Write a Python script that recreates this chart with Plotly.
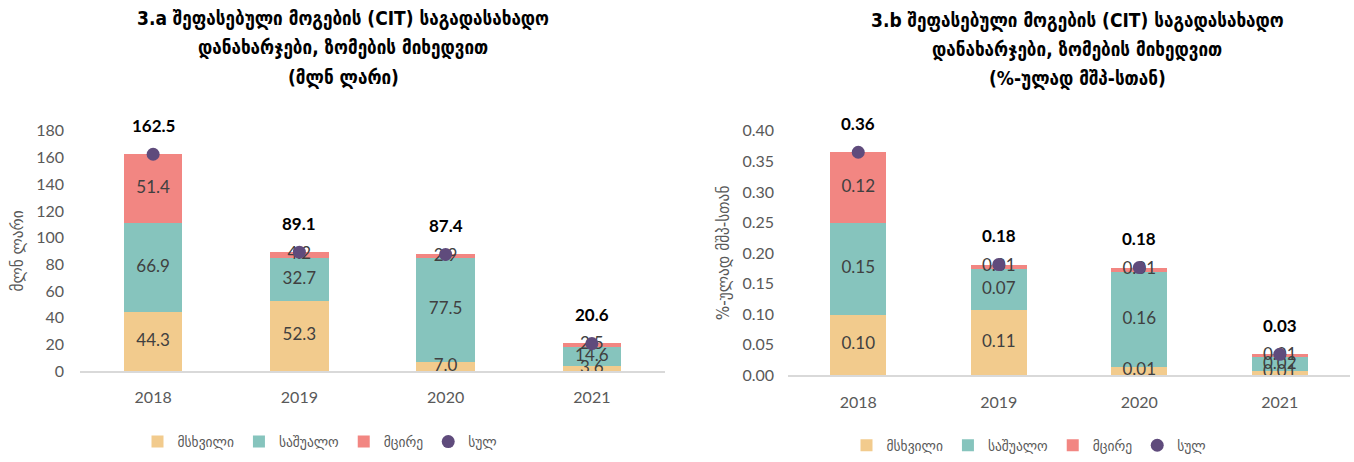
import plotly.graph_objects as go

years = ["2018", "2019", "2020", "2021"]

# 3.a  million GEL
large_a = [44.3, 52.3, 7.0, 3.6]
medium_a = [66.9, 32.7, 77.5, 14.6]
small_a = [51.4, 4.2, 2.9, 2.5]
total_a = [162.5, 89.1, 87.4, 20.6]

# 3.b  % of GDP
large_b = [0.098, 0.106, 0.013, 0.006]
medium_b = [0.151, 0.067, 0.156, 0.023]
small_b = [0.116, 0.008, 0.007, 0.005]
total_b = [0.365, 0.181, 0.176, 0.034]

series_names = ["მსხვილი", "საშუალო", "მცირე", "სულ"]
title_a = ["3.a შეფასებული მოგების (CIT) საგადასახადო", "დანახარჯები, ზომების მიხედვით", "(მლნ ლარი)"]
title_b = ["3.b შეფასებული მოგების (CIT) საგადასახადო", "დანახარჯები, ზომების მიხედვით", "(%-ულად მშპ-სთან)"]
ytitle_a = "მლნ ლარი"
ytitle_b = "%-ულად მშპ-სთან"

W, H = 1354, 462
C_LARGE = "#F2CB8D"
C_MED = "#86C4BD"
C_SMALL = "#F28682"
C_TOT = "#5F4B7C"
TXT = "#404040"
TICK = "#595959"
FONT = "Lato, 'DejaVu Sans', sans-serif"
GEO = "'DejaVu Sans Condensed', 'DejaVu Sans', sans-serif"

fig = go.Figure()

def add_chart(xa, ya, leg, large, medium, small, total, fmt):
    parts = [(series_names[0], large, C_LARGE), (series_names[1], medium, C_MED), (series_names[2], small, C_SMALL)]
    for name, vals, col in parts:
        fig.add_trace(go.Bar(
            x=years, y=vals, name=name, marker=dict(color=col, line=dict(width=0)),
            width=0.4, xaxis=xa, yaxis=ya, legend=leg, hoverinfo="skip"))
    # segment labels, drawn above all bars
    base = [0.0] * len(years)
    for name, vals, col in parts:
        mids = [b + v / 2 for b, v in zip(base, vals)]
        fig.add_trace(go.Scatter(
            x=years, y=mids, mode="text", text=[format(v, fmt) for v in vals],
            textposition="middle center", textfont=dict(family=FONT, size=17, color=TXT),
            xaxis=xa, yaxis=ya, showlegend=False, cliponaxis=False, hoverinfo="skip"))
        base = [b + v for b, v in zip(base, vals)]
    fig.add_trace(go.Scatter(
        x=years, y=total, name=series_names[3], mode="markers",
        marker=dict(color=C_TOT, size=13), xaxis=xa, yaxis=ya, legend=leg,
        cliponaxis=False, hoverinfo="skip"))
    xref = "x" if xa == "x" else "x2"
    yref = "y" if ya == "y" else "y2"
    for i, t in enumerate(total):
        fig.add_annotation(x=i, y=t, xref=xref, yref=yref, text="<b>" + format(t, fmt) + "</b>",
                           showarrow=False, yshift=29, font=dict(family=FONT, size=17, color="#000000"))

add_chart("x", "y", "legend", large_a, medium_a, small_a, total_a, ".1f")
add_chart("x2", "y2", "legend2", large_b, medium_b, small_b, total_b, ".2f")

def px_x(p):
    return p / W

def px_y(p):
    # vertical pixel target -> paper coordinate (compensates observed capture offset/scale)
    wy = (p - 9.7) / 0.96
    return 1 - wy / H

axis_common = dict(showgrid=False, zeroline=False, tickfont=dict(family=FONT, size=16, color=TICK))

fig.update_layout(
    width=W, height=H, barmode="stack", plot_bgcolor="white", paper_bgcolor="white",
    margin=dict(l=0, r=0, t=0, b=0), font=dict(family=FONT),
    xaxis=dict(domain=[px_x(80), px_x(665)], type="category", range=[-0.5, 3.5], showline=True,
               linecolor="#D9D9D9", linewidth=2, ticks="", ticklabelstandoff=11, **axis_common),
    yaxis=dict(domain=[px_y(372), px_y(131)], range=[0, 180], dtick=20, showline=False,
               ticks="", ticklabelstandoff=15,
               title=dict(text=ytitle_a, standoff=8, font=dict(family=GEO, size=17, color=TICK)),
               **axis_common),
    xaxis2=dict(domain=[px_x(788), px_x(1350)], anchor="y2", type="category", range=[-0.5, 3.5], showline=True,
                linecolor="#D9D9D9", linewidth=2, ticks="", ticklabelstandoff=12, **axis_common),
    yaxis2=dict(domain=[px_y(376), px_y(131)], anchor="x2", range=[0, 0.40], dtick=0.05, tickformat=".2f",
                showline=False, ticks="", ticklabelstandoff=13,
                title=dict(text=ytitle_b, standoff=8, font=dict(family=GEO, size=17, color=TICK)),
                **axis_common),
    legend=dict(orientation="h", x=px_x(320), xanchor="center", y=px_y(443), yanchor="middle",
                font=dict(family=GEO, size=15, color=TICK), itemwidth=30, traceorder="normal",
                bgcolor="rgba(0,0,0,0)"),
    legend2=dict(orientation="h", x=px_x(1029), xanchor="center", y=px_y(447), yanchor="middle",
                 font=dict(family=GEO, size=15, color=TICK), itemwidth=30, traceorder="normal",
                 bgcolor="rgba(0,0,0,0)"),
    showlegend=True,
)

for lines, cx, ys in [(title_a, 343, [18, 47, 77]), (title_b, 1077, [20, 49, 78])]:
    for line, yy in zip(lines, ys):
        fig.add_annotation(x=px_x(cx), y=px_y(yy), xref="paper", yref="paper", text="<b>" + line + "</b>",
                           showarrow=False, xanchor="center", yanchor="middle",
                           font=dict(family=GEO, size=19, color="#000000"))

fig.write_html("out.html", config={"displayModeBar": False},
               post_script="document.body.style.margin='0';document.body.style.overflow='hidden';")
